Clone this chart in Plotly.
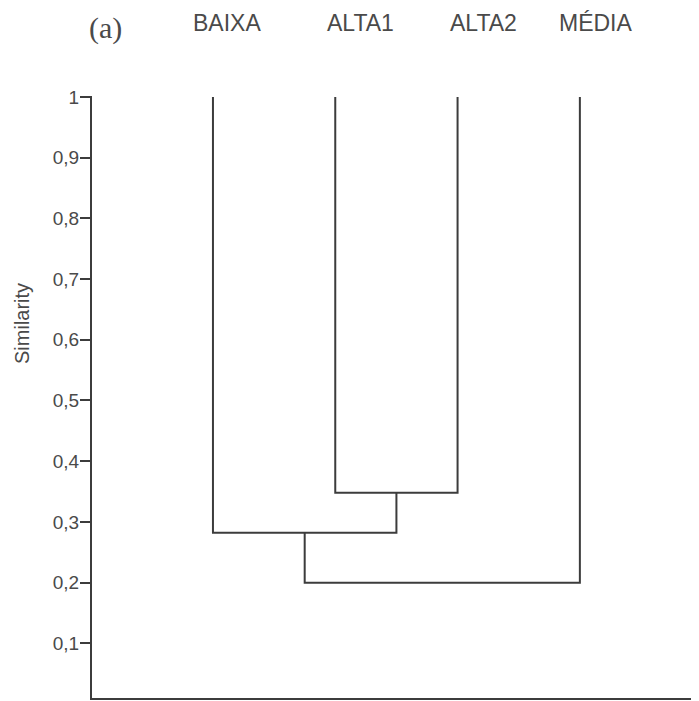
import plotly.graph_objects as go

# ---- data ----
leaves = ["BAIXA", "ALTA1", "ALTA2", "MÉDIA"]
leaf_top = 1.0
# merges: (left child, right child, similarity); children are leaf names or cluster ids
merges = [
    ("ALTA1", "ALTA2", 0.348),
    ("BAIXA", "C1", 0.282),
    ("C2", "MÉDIA", 0.200),
]
y_tickvals = [0.1, 0.2, 0.3, 0.4, 0.5, 0.6, 0.7, 0.8, 0.9, 1.0]
y_ticktext = ["0,1", "0,2", "0,3", "0,4", "0,5", "0,6", "0,7", "0,8", "0,9", "1"]
panel_label = "(a)"
y_title = "Similarity"

# ---- build dendrogram geometry ----
pos = {name: i + 1 for i, name in enumerate(leaves)}
height = {name: leaf_top for name in leaves}
xs, ys = [], []
for k, (a, b, h) in enumerate(merges, start=1):
    xa, xb = pos[a], pos[b]
    xs += [xa, xa, xb, xb, None]
    ys += [height[a], h, h, height[b], None]
    cid = f"C{k}"
    pos[cid] = (xa + xb) / 2
    height[cid] = h

LINE = "#3c3c3c"
TEXT = "#4a4a4a"

# page offset of the figure (default body margin)
OFF = 8
PL, PR, PT, PB = 92, 699, 96, 698   # plot area in page pixels
PW, PH = PR - PL, PB - PT

def px(xp):
    return (xp - PL) / PW

def py(yp):
    return (PB - yp) / PH

fig = go.Figure()
fig.add_trace(go.Scatter(x=xs, y=ys, mode="lines",
                         line=dict(color=LINE, width=2),
                         hoverinfo="skip", showlegend=False))

label_shift = [14, 25, 26, 16]
for name, sh in zip(leaves, label_shift):
    fig.add_annotation(x=pos[name], y=py(23), xref="x", yref="paper",
                       text=name, showarrow=False, xshift=sh,
                       xanchor="center", yanchor="middle",
                       font=dict(family="Liberation Sans", size=23, color=TEXT))

fig.add_annotation(x=px(105), y=py(28), xref="paper", yref="paper",
                   text=panel_label, showarrow=False, xanchor="center", yanchor="middle",
                   font=dict(family="Liberation Serif", size=30, color=TEXT))

fig.add_annotation(x=px(22), y=py(324), xref="paper", yref="paper",
                   text=y_title, showarrow=False, textangle=-90,
                   xanchor="center", yanchor="middle",
                   font=dict(family="Liberation Sans", size=20, color=TEXT))

fig.update_layout(
    width=699 - OFF, height=701 - OFF,
    margin=dict(l=PL - OFF, r=0, t=PT - OFF, b=701 - PB),
    paper_bgcolor="white", plot_bgcolor="white",
    xaxis=dict(range=[0.011, 4.974], showgrid=False, zeroline=False,
               showticklabels=False, ticks="", showline=True,
               linecolor=LINE, linewidth=2, fixedrange=True),
    yaxis=dict(range=[0.01, 1.0015], showgrid=False, zeroline=False,
               tickvals=y_tickvals, ticktext=y_ticktext,
               ticks="outside", ticklen=10, tickwidth=2, tickcolor=LINE,
               ticklabelstandoff=-3,
               showline=True, linecolor=LINE, linewidth=2,
               tickfont=dict(family="Liberation Sans", size=19, color=TEXT)),
)

fig.write_html("out.html")
